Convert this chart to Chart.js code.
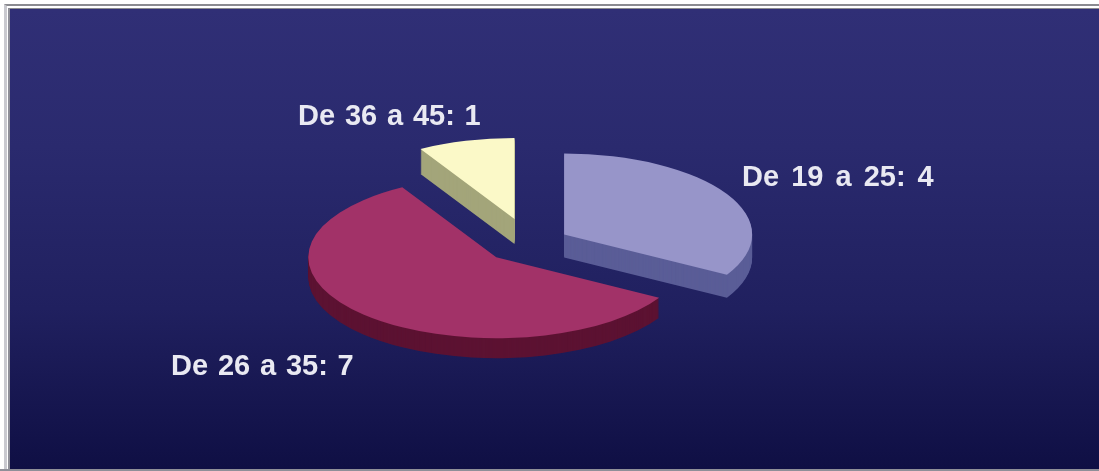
<!DOCTYPE html>
<html>
<head>
<meta charset="utf-8">
<script src="https://cdn.jsdelivr.net/npm/chart.js@4/dist/chart.umd.min.js"></script>
<style>
    html, body { margin: 0; padding: 0; width: 1099px; height: 471px; background: #fff; overflow: hidden; }
    /* double rule round the slide, as on the scan */
    #rule1 { position: absolute; left: 4px; top: 4px; right: 0; bottom: 0; border-left: 3px solid #c9c9cf; border-top: 2px solid #8a8a90; }
    #rule2 { position: absolute; left: 8px; top: 8px; right: 0; bottom: 0; border-left: 2px solid #8f8f98; border-top: 1px solid #8a8a90; }
    #plate { position: absolute; left: 10px; top: 9px; right: 0; bottom: 2px;
             background: linear-gradient(to bottom, #302f76 0%, #2a2a6e 30%, #20205f 65%, #0f0f44 100%); }
    #plateEnd { position: absolute; left: 0; right: 0; bottom: 0; height: 2px; background: #8f8f98; }
    canvas { position: absolute; left: 0; top: 0; filter: blur(0.6px); }
</style>
</head>
<body>
<div id="rule1"></div>
<div id="rule2"></div>
<div id="plate"></div>
<div id="plateEnd"></div>
<canvas id="agePie" width="1099" height="471"></canvas>
<script>
const categories = ['De 19 a 25', 'De 26 a 35', 'De 36 a 45'];
const counts = [4, 7, 1];

const topColors = ['#9795c9', '#a23268', '#fbf9c8'];
const sideColors = ['#5a5d97', '#5c1232', '#a3a57a'];

// how far each slice is pulled out of the pie, before flattening
const explode = [40, 47, 58];
// thickness of each slice's wall in px (the scan's perspective makes them differ)
const walls = [23, 20, 25];
// where each caption starts (left edge, baseline) and its word gap
const captionSpots = [[742, 186], [171, 375], [298, 125]];
const captionGaps = ['4px', '1.75px', '1.75px'];

const TILT = 0.43;   // vertical squash of the pie

// Draws one arc flattened and pulled out, dropped by "drop" px
function drawSlice(ctx, arc, index, drop) {
    const mid = (arc.startAngle + arc.endAngle) / 2;
    ctx.save();
    ctx.translate(0, arc.y + drop);
    ctx.scale(1, TILT);
    ctx.translate(0, -arc.y);
    ctx.translate(Math.cos(mid) * explode[index], Math.sin(mid) * explode[index]);
    arc.draw(ctx);
    ctx.restore();
}

const tiltedPie = {
    id: 'tiltedPie',
    beforeDatasetDraw(chart, args) {
        const ctx = chart.ctx;
        args.meta.data.forEach((arc, i) => {
            const topOptions = arc.options;
            // side wall: the same arc stacked downwards in the darker colour
            arc.options = { ...topOptions, backgroundColor: sideColors[i], borderWidth: 0 };
            for (let d = walls[i]; d > 0; d--) {
                drawSlice(ctx, arc, i, d);
            }
            arc.options = topOptions;
            drawSlice(ctx, arc, i, 0);
        });
        return false; // the default flat drawing is not wanted
    },
    afterDatasetsDraw(chart) {
        const ctx = chart.ctx;
        ctx.save();
        ctx.font = 'bold 29px "Liberation Sans", Arial, sans-serif';
        ctx.fillStyle = '#e9e9f2';
        ctx.textBaseline = 'alphabetic';
        categories.forEach((name, i) => {
            ctx.wordSpacing = captionGaps[i];
            ctx.fillText(`${name}: ${counts[i]}`, captionSpots[i][0], captionSpots[i][1]);
        });
        ctx.restore();
    }
};

new Chart(document.getElementById('agePie').getContext('2d'), {
    type: 'pie',
    data: {
        labels: categories,
        datasets: [{
            data: counts,
            backgroundColor: topColors,
            borderWidth: 0
        }]
    },
    options: {
        responsive: false,
        animation: false,
        radius: 188,
        layout: { padding: { right: 40, top: 15 } },
        plugins: {
            legend: { display: false },
            tooltip: { enabled: false }
        }
    },
    plugins: [tiltedPie]
});
</script>
</body>
</html>
